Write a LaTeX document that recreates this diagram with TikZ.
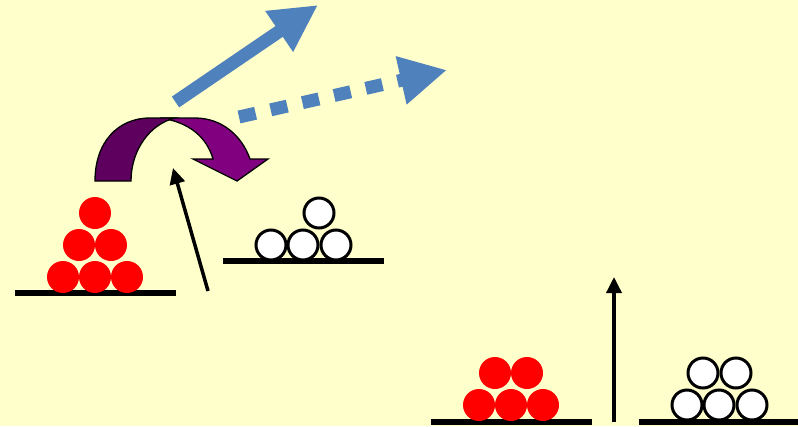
\documentclass[tikz,border=0pt]{standalone}
\usetikzlibrary{arrows.meta}
\definecolor{bgyellow}{HTML}{FFFFCC}
\definecolor{officeblue}{HTML}{4F81BD}
\definecolor{darkplum}{HTML}{5E005E}
\definecolor{plum}{HTML}{800080}
\tikzset{
  redball/.style={circle,fill=red,inner sep=0pt,minimum size=32pt},
  whiteball/.style={circle,draw=black,fill=white,line width=3pt,inner sep=0pt,minimum size=30pt},
  ground/.style={line width=5.5pt},
  pointer/.style={line width=3.5pt,-{Triangle[length=16pt,width=15pt]}},
  bigblue/.style={officeblue,line width=13pt,-{Triangle[length=47pt,width=46pt]}},
  bandedge/.style={draw=black,line width=1.3pt,line join=miter}
}
\begin{document}
\begin{tikzpicture}[x=1pt,y=-1pt]
\fill[bgyellow] (0,0) rectangle (798,426);
\useasboundingbox (0,0) rectangle (798,426);

% ---- upper left: red pyramid on its ground line
\coordinate (gA1) at (15,293); \coordinate (gA2) at (176,293);
\draw[ground] (gA1) -- (gA2);
\node[redball] (ra1) at (95,213) {};
\node[redball] (ra2) at (79,245) {};
\node[redball] (ra3) at (111,245) {};
\node[redball] (ra4) at (63,277) {};
\node[redball] (ra5) at (95,277) {};
\node[redball] (ra6) at (127,277) {};

% ---- upper middle: white pyramid
\coordinate (gB1) at (223,261); \coordinate (gB2) at (384,261);
\draw[ground] (gB1) -- (gB2);
\node[whiteball] (wa1) at (319,213) {};
\node[whiteball] (wa2) at (271,245) {};
\node[whiteball] (wa3) at (303,245) {};
\node[whiteball] (wa4) at (336,245) {};

% ---- black arrow (upper)
\coordinate (pa1) at (208,291); \coordinate (pa2) at (173,168);
\draw[pointer] (pa1) -- (pa2);

% ---- purple curved arrow
\filldraw[fill=plum,bandedge]
  (160,118) -- (195,118) .. controls (222,118) and (242,136) .. (250,159)
  -- (268,159) -- (237,181) -- (193,159) -- (213,159)
  .. controls (207,138) and (190,122) .. (160,118) -- cycle;
\filldraw[fill=darkplum,bandedge]
  (95,181) .. controls (95,142) and (118,118) .. (150,118) -- (175,118)
  .. controls (150,124) and (131,150) .. (131,181) -- cycle;

% ---- blue arrows
\coordinate (ba1) at (175.5,102); \coordinate (ba2) at (318,5);
\draw[bigblue] (ba1) -- (ba2);
\coordinate (bb1) at (239,117); \coordinate (bb2) at (447,70);
\draw[bigblue,dash pattern=on 17pt off 15.5pt] (bb1) -- (bb2);

% ---- lower middle: red pyramid
\coordinate (gC1) at (431,422); \coordinate (gC2) at (592,422);
\draw[ground] (gC1) -- (gC2);
\node[redball] (rb1) at (495,373) {};
\node[redball] (rb2) at (527,373) {};
\node[redball] (rb3) at (479,405) {};
\node[redball] (rb4) at (511,405) {};
\node[redball] (rb5) at (543,405) {};

% ---- black arrow (lower)
\coordinate (pb1) at (614,422); \coordinate (pb2) at (614,277);
\draw[pointer] (pb1) -- (pb2);

% ---- lower right: white pyramid
\coordinate (gD1) at (639,422); \coordinate (gD2) at (798,422);
\draw[ground] (gD1) -- (gD2);
\node[whiteball] (wb1) at (703,373) {};
\node[whiteball] (wb2) at (736,373) {};
\node[whiteball] (wb3) at (687,405) {};
\node[whiteball] (wb4) at (719,405) {};
\node[whiteball] (wb5) at (752,405) {};
\end{tikzpicture}
\end{document}
